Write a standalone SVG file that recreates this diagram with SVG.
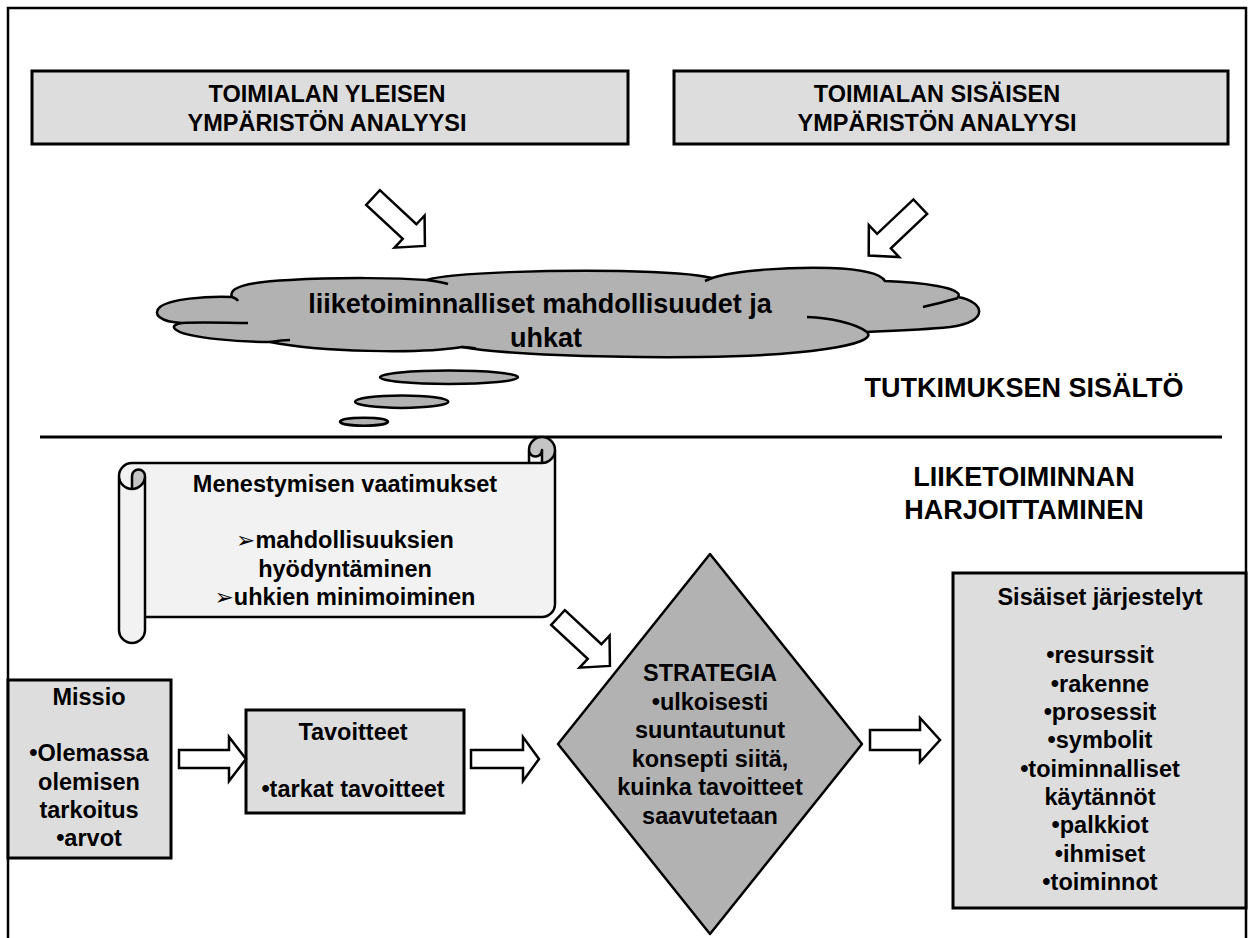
<svg xmlns="http://www.w3.org/2000/svg" width="1250" height="938" viewBox="0 0 1250 938">
<style>
.t{font-family:"Liberation Sans",Arial,sans-serif;font-weight:bold;text-anchor:middle;fill:#000}
.f23{font-size:23.5px}
.f27{font-size:27px}
.box{fill:#dddddd;stroke:#000;stroke-width:3}
.dark{fill:#b2b2b2;stroke:#000;stroke-width:2.5;stroke-linejoin:round}
.arrow{fill:#fff;stroke:#000;stroke-width:2.5;stroke-linejoin:miter}
.ln{fill:none;stroke:#000;stroke-width:2.5}
.ar{font-family:"DejaVu Sans",sans-serif;font-size:23px;font-weight:normal}
</style>
<defs>
<polygon id="darr" points="0,-10 50,-10 50,-22 71,0 50,22 50,10 0,10"/>
</defs>
<rect width="1250" height="938" fill="#fff"/>
<path class="ln" d="M8,945 V8 H1246 V945"/>
<line x1="40" y1="437" x2="1222" y2="437" stroke="#000" stroke-width="3"/>

<g id="box-yleinen">
<rect class="box" x="32" y="71" width="596" height="73"/>
<text class="t f23" x="327" y="102">TOIMIALAN YLEISEN</text>
<text class="t f23" x="327" y="131">YMPÄRISTÖN ANALYYSI</text>
</g>
<g id="box-sisainen">
<rect class="box" x="674" y="71" width="554" height="73"/>
<text class="t f23" x="937" y="102">TOIMIALAN SISÄISEN</text>
<text class="t f23" x="937" y="131">YMPÄRISTÖN ANALYYSI</text>
</g>

<g id="cloud">
<path class="dark" d="M182,323 C160,322 152,314 160,307 C170,299 205,296 232,297 C228,288 245,282 290,280 C340,277 400,278 427,280 C450,272 560,270 620,271 C670,272 700,275 712,278 C735,270 790,267 830,268 C860,269 880,273 885,281 C920,282 965,288 958,297 C985,302 990,322 950,327 C920,330 890,331 867,332 C880,345 800,356 700,357 C600,358 500,354 462,347 C420,354 320,352 270,342 C240,342 190,338 178,331 C170,327 175,324 182,323 Z"/>
<path class="ln" d="M182,323 C200,322 230,323 248,323 M427,280 C435,281 442,282 448,284 M705,281 L712,278 M923,307 C935,304 948,301 958,298 M807,317 C830,318 855,323 867,332 M462,347 C466,347 472,348 476,348.5 M270,342 C276,341 283,340 290,340 M232,297 C235,298 237,299 238,301"/>
<text class="t f27" x="540" y="313">liiketoiminnalliset mahdollisuudet ja</text>
<text class="t f27" x="546" y="347">uhkat</text>
<ellipse class="dark" cx="449" cy="377.3" rx="69" ry="6.7"/>
<ellipse class="dark" cx="401.7" cy="401.7" rx="46.7" ry="6.2"/>
<ellipse class="dark" cx="364" cy="421.7" rx="24" ry="4"/>
</g>

<g id="label-tutkimus">
<text class="t f27" x="1024" y="397">TUTKIMUKSEN SISÄLTÖ</text>
</g>
<g id="label-liiketoiminta">
<text class="t f27" x="1024" y="486">LIIKETOIMINNAN</text>
<text class="t f27" x="1024" y="519">HARJOITTAMINEN</text>
</g>

<g id="scroll">
<path d="M119,476 A13,13 0 0 1 132,463 L529,463 L529,450 A13,13 0 0 1 555,450 L555,604 A13,13 0 0 1 542,617 L145,617 L145,630 A13,13 0 0 1 119,630 Z" fill="#f2f2f2"/>
<path d="M132,489 A13,13 0 0 0 145,476 A6.5,6.5 0 0 0 132,476 Z M542,463 A13,13 0 1 0 529,450 A6.5,6.5 0 0 0 542,450 Z" fill="#c4c4c4"/>
<path class="ln" stroke-linejoin="round" d="M119,476 A13,13 0 0 1 132,463 L529,463 L529,450 A13,13 0 0 1 555,450 L555,604 A13,13 0 0 1 542,617 L145,617 L145,630 A13,13 0 0 1 119,630 Z M529,463 L542,463 A13,13 0 0 0 555,450 M542,463 L542,450 A6.5,6.5 0 0 1 529,450 M132,489 L132,476 A6.5,6.5 0 0 1 145,476 A13,13 0 0 1 119,476 M145,476 L145,617"/>
<text class="t f23" x="345" y="492">Menestymisen vaatimukset</text>
<text class="t f23" x="345" y="548"><tspan class="ar">➢</tspan>mahdollisuuksien</text>
<text class="t f23" x="345" y="577">hyödyntäminen</text>
<text class="t f23" x="345" y="605"><tspan class="ar">➢</tspan>uhkien minimoiminen</text>
</g>

<g id="missio">
<rect class="box" x="8" y="680" width="163" height="178"/>
<text class="t f23" x="89" y="705">Missio</text>
<text class="t f23" x="89" y="761">•Olemassa</text>
<text class="t f23" x="89" y="790">olemisen</text>
<text class="t f23" x="89" y="818">tarkoitus</text>
<text class="t f23" x="89" y="846">•arvot</text>
</g>

<g id="tavoitteet">
<rect class="box" x="246" y="710" width="218" height="103"/>
<text class="t f23" x="353" y="740">Tavoitteet</text>
<text class="t f23" x="353" y="797">•tarkat tavoitteet</text>
</g>

<g id="strategia">
<polygon class="dark" points="710,554 862,744 710,934 558,744"/>
<text class="t f23" x="710" y="681">STRATEGIA</text>
<text class="t f23" x="710" y="709.5">•ulkoisesti</text>
<text class="t f23" x="710" y="738">suuntautunut</text>
<text class="t f23" x="710" y="766.5">konsepti siitä,</text>
<text class="t f23" x="710" y="795">kuinka tavoitteet</text>
<text class="t f23" x="710" y="823.5">saavutetaan</text>
</g>

<g id="jarjestelyt">
<rect class="box" x="953" y="573" width="293" height="335"/>
<text class="t f23" x="1100" y="605">Sisäiset järjestelyt</text>
<text class="t f23" x="1100" y="663.3">•resurssit</text>
<text class="t f23" x="1100" y="691.7">•rakenne</text>
<text class="t f23" x="1100" y="720">•prosessit</text>
<text class="t f23" x="1100" y="748.3">•symbolit</text>
<text class="t f23" x="1100" y="776.7">•toiminnalliset</text>
<text class="t f23" x="1100" y="805">käytännöt</text>
<text class="t f23" x="1100" y="833.3">•palkkiot</text>
<text class="t f23" x="1100" y="861.7">•ihmiset</text>
<text class="t f23" x="1100" y="890">•toiminnot</text>
</g>

<g id="connectors">
<use href="#darr" class="arrow" transform="translate(373,197.5) rotate(43)"/>
<use href="#darr" class="arrow" transform="translate(920.3,206.7) rotate(136.6)"/>
<use href="#darr" class="arrow" transform="translate(558,617.5) rotate(43)"/>
<polygon class="arrow" points="179,750 229,750 229,737 246,759 229,781 229,768 179,768"/>
<polygon class="arrow" points="471,750 523,750 523,737 539,759 523,781 523,768 471,768"/>
<polygon class="arrow" points="870,730 920,730 920,718 940,740 920,762 920,750 870,750"/>
</g>
</svg>
